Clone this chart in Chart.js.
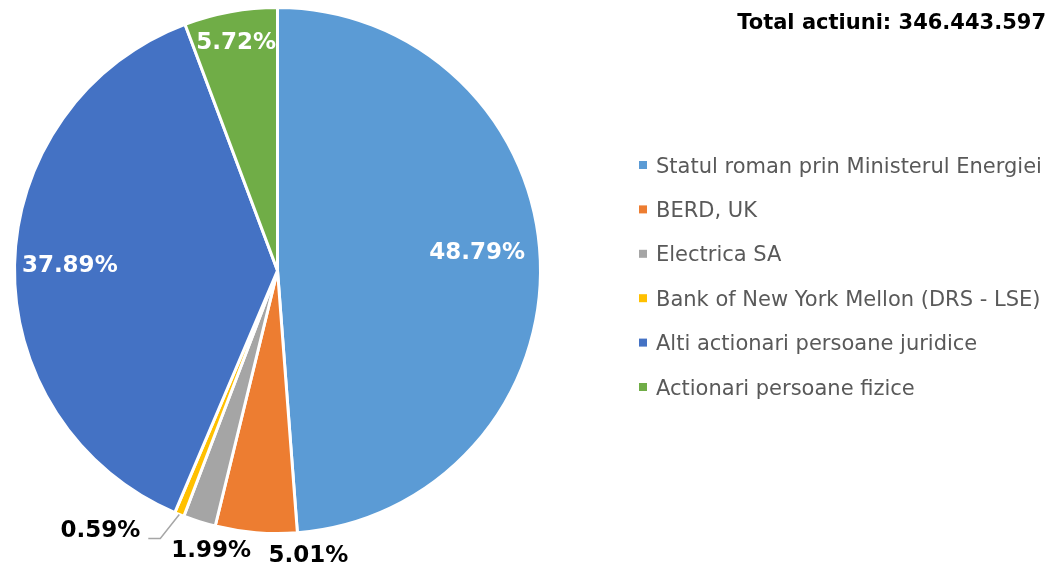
<!DOCTYPE html>
<html>
<head>
<meta charset="utf-8">
<script src="https://cdn.jsdelivr.net/npm/chart.js@4/dist/chart.umd.min.js"></script>
<style>
html, body { margin: 0; padding: 0; background: #fff; }
canvas { display: block; }
</style>
</head>
<body>
<canvas id="pieChart" width="1056" height="565"></canvas>
<script>
// date actionariat
var labels = [
    'Statul roman prin Ministerul Energiei',
    'BERD, UK',
    'Electrica SA',
    'Bank of New York Mellon (DRS - LSE)',
    'Alti actionari persoane juridice',
    'Actionari persoane fizice'
];
var values = [48.79, 5.01, 1.99, 0.59, 37.89, 5.72];
var colors = ['#5B9BD5', '#ED7D31', '#A5A5A5', '#FFC000', '#4472C4', '#70AD47'];
var totalText = 'Total actiuni: 346.443.597';

// pozitia etichetelor: in felie (alb) sau in afara (negru)
var labelPos = [
    { f: 0.76, dx: 0, dy: -10, inside: true },
    { f: 1.08, dx: 54, dy: 2 },
    { f: 1.08, dx: 18, dy: 9 },
    { leader: true },
    { f: 0.79, dx: 0, dy: 0, inside: true },
    { f: 0.88, dx: 0, dy: 0, inside: true }
];

var extras = {
    id: 'extras',
    afterDatasetsDraw: function (chart) {
        var ctx = chart.ctx;
        var arcs = chart.getDatasetMeta(0).data;
        ctx.save();
        ctx.font = 'bold 23px "DejaVu Sans"';
        ctx.textBaseline = 'middle';
        arcs.forEach(function (arc, i) {
            var p = arc.getProps(['x', 'y', 'startAngle', 'endAngle', 'outerRadius']);
            var mid = (p.startAngle + p.endAngle) / 2;
            var txt = values[i].toFixed(2) + '%';
            var lp = labelPos[i];
            if (lp.leader) {
                var sx = p.x + Math.cos(mid) * p.outerRadius;
                var sy = p.y + Math.sin(mid) * p.outerRadius;
                var ex = sx - 19, ey = sy + 24;
                ctx.strokeStyle = '#A6A6A6';
                ctx.lineWidth = 1.5;
                ctx.beginPath();
                ctx.moveTo(sx, sy);
                ctx.lineTo(ex, ey);
                ctx.lineTo(ex - 12, ey);
                ctx.stroke();
                ctx.fillStyle = '#000';
                ctx.textAlign = 'right';
                ctx.fillText(txt, ex - 20, ey - 7);
                return;
            }
            var x = p.x + Math.cos(mid) * p.outerRadius * lp.f + lp.dx;
            var y = p.y + Math.sin(mid) * p.outerRadius * lp.f + lp.dy;
            ctx.fillStyle = lp.inside ? '#fff' : '#000';
            ctx.textAlign = 'center';
            ctx.fillText(txt, x, y);
        });

        // legenda
        ctx.textAlign = 'left';
        ctx.textBaseline = 'alphabetic';
        ctx.font = '21px "DejaVu Sans"';
        labels.forEach(function (lab, i) {
            var cy = 165 + i * 44.4;
            ctx.fillStyle = colors[i];
            ctx.fillRect(639, cy - 4, 8, 8);
            ctx.fillStyle = '#595959';
            ctx.fillText(lab, 656, cy + 7.6);
        });

        // total
        ctx.font = 'bold 21px "DejaVu Sans"';
        ctx.fillStyle = '#000';
        ctx.textAlign = 'right';
        ctx.fillText(totalText, 1046, 29);
        ctx.restore();
    }
};

var ctx = document.getElementById('pieChart').getContext('2d');
var myChart = new Chart(ctx, {
    type: 'pie',
    data: {
        labels: labels,
        datasets: [{
            data: values,
            backgroundColor: colors,
            borderColor: '#fff',
            borderWidth: 3
        }]
    },
    options: {
        responsive: false,
        animation: false,
        events: [],
        layout: { padding: { left: 13, top: 6, right: 514, bottom: 30 } },
        plugins: {
            legend: { display: false },
            tooltip: { enabled: false }
        }
    },
    plugins: [extras]
});
</script>
</body>
</html>
